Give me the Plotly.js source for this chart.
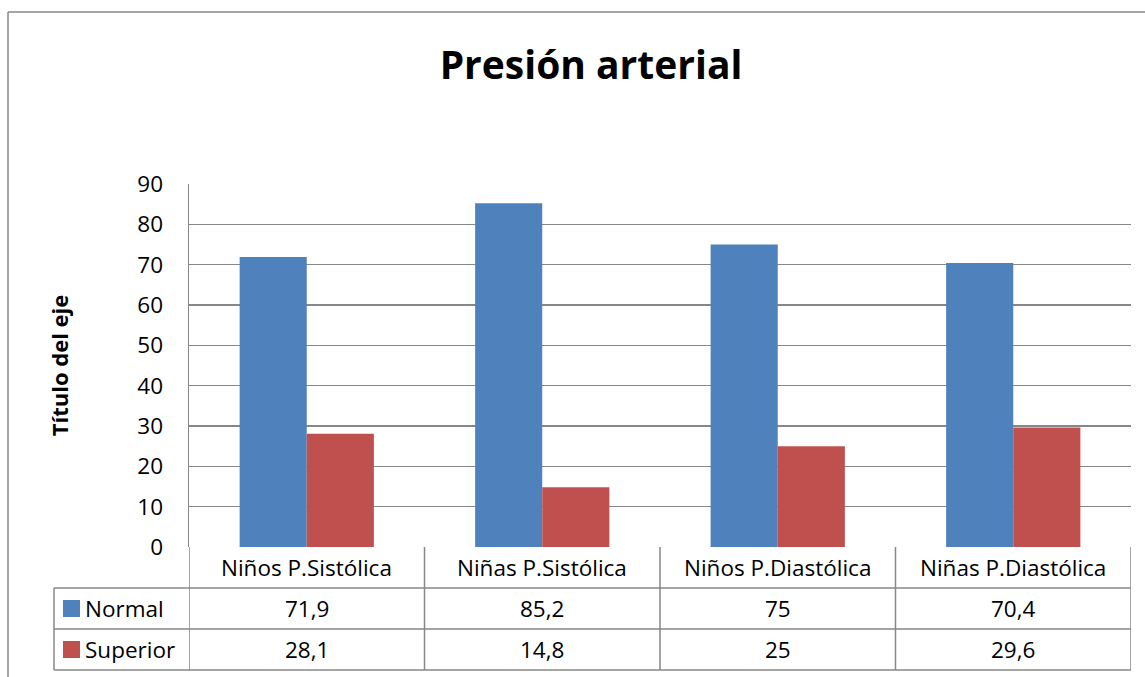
<!DOCTYPE html>
<html>
<head>
<meta charset="utf-8">
<script src="https://cdn.plot.ly/plotly-3.0.1.min.js"></script>
<style>html,body{margin:0;padding:0;background:#fff;}#chart{width:1145px;height:677px;}</style>
</head>
<body>
<div id="chart"></div>
<script>
var categories = ["Niños P.Sistólica", "Niñas P.Sistólica", "Niños P.Diastólica", "Niñas P.Diastólica"];
var seriesNames = ["Normal", "Superior"];
var normalValues = [71.9, 85.2, 75, 70.4];
var superiorValues = [28.1, 14.8, 25, 29.6];
var yTicks = [0, 10, 20, 30, 40, 50, 60, 70, 80, 90];

var FONT = "'Open Sans', Calibri, sans-serif";
var BLUE = "#4F81BD", RED = "#C0504D", LINE = "#878787";
var W = 1145, H = 677, L = 189, R = 14, T = 184, B = 130;
var plotH = H - T - B;
function py(pix) { return (H - B - pix) / plotH; }
function px(pix) { return (pix - L) / (W - L - R); }

var xIdx = categories.map(function (c, i) { return i; });
var fmt = function (v) { return String(v).replace('.', ','); };

var traces = [
  { type: 'bar', name: seriesNames[0], x: xIdx, y: normalValues, marker: { color: BLUE }, hoverinfo: 'y' },
  { type: 'bar', name: seriesNames[1], x: xIdx, y: superiorValues, marker: { color: RED }, hoverinfo: 'y' }
];

var TXT = 22.5;
var rowTop = 547, rowH = 41;
var shapes = [];
var annotations = [];
[1, 2, 3].forEach(function (k) {
  shapes.push({ type: 'line', xref: 'paper', yref: 'paper', x0: px(54), x1: 1, y0: py(rowTop + k * rowH), y1: py(rowTop + k * rowH), line: { color: LINE, width: 1.5 } });
});
for (var b = 0; b <= categories.length; b++) {
  shapes.push({ type: 'line', xref: 'x', yref: 'paper', x0: b - 0.5, x1: b - 0.5, y0: 0, y1: py(rowTop + 3 * rowH), line: { color: LINE, width: 1.5 } });
}
shapes.push({ type: 'line', xref: 'paper', yref: 'paper', x0: px(54), x1: px(54), y0: py(rowTop + rowH), y1: py(rowTop + 3 * rowH), line: { color: LINE, width: 1.5 } });
shapes.push({ type: 'line', xref: 'paper', yref: 'paper', x0: px(8), x1: px(8), y0: py(12), y1: py(700), line: { color: LINE, width: 1.5 } });
shapes.push({ type: 'line', xref: 'paper', yref: 'paper', x0: px(8), x1: px(1160), y0: py(12), y1: py(12), line: { color: LINE, width: 1.5 } });

categories.forEach(function (c, i) {
  annotations.push({ xref: 'x', yref: 'paper', x: i, y: py(rowTop + rowH / 2), text: c, showarrow: false, xanchor: 'center', yanchor: 'middle', font: { family: FONT, size: TXT, color: '#000' } });
});
var rows = [normalValues, superiorValues];
var colors = [BLUE, RED];
rows.forEach(function (vals, r) {
  var yc = py(rowTop + rowH * (r + 1) + rowH / 2);
  vals.forEach(function (v, i) {
    annotations.push({ xref: 'x', yref: 'paper', x: i, y: yc, text: fmt(v), showarrow: false, xanchor: 'center', yanchor: 'middle', font: { family: FONT, size: TXT, color: '#000' } });
  });
  annotations.push({ xref: 'paper', yref: 'paper', x: px(83), y: yc, text: seriesNames[r], showarrow: false, xanchor: 'left', yanchor: 'middle', font: { family: FONT, size: TXT, color: '#000' } });
  var yTopPix = rowTop + rowH * (r + 1) + rowH / 2 - 8.5;
  shapes.push({ type: 'rect', xref: 'paper', yref: 'paper', x0: px(63), x1: px(80), y0: py(yTopPix), y1: py(yTopPix + 17), fillcolor: colors[r], line: { width: 0 } });
});

var layout = {
  width: W, height: H,
  margin: { l: L, r: R, t: T, b: B, pad: 0 },
  paper_bgcolor: '#fff', plot_bgcolor: '#fff',
  font: { family: FONT, color: '#000' },
  title: { text: '<b>Presión arterial</b>', x: 591 / W, xanchor: 'center', y: 1 - 65 / H, yanchor: 'middle', font: { family: FONT, size: 39, color: '#000' } },
  showlegend: false,
  barmode: 'group', bargap: 0.43, bargroupgap: 0,
  xaxis: { range: [-0.5, categories.length - 0.5], showticklabels: false, ticks: '', showgrid: false, zeroline: false, showline: false, fixedrange: true },
  yaxis: {
    range: [0, 90], tickvals: yTicks, ticktext: yTicks.map(String), ticks: '', ticklabelstandoff: 20,
    tickfont: { family: FONT, size: TXT, color: '#000' },
    showgrid: true, gridcolor: LINE, gridwidth: 1.5, zeroline: false,
    showline: true, linecolor: LINE, linewidth: 1.5,
    title: { text: '<b>Título del eje</b>', standoff: 62, font: { family: FONT, size: 22, color: '#000' } },
    fixedrange: true
  },
  shapes: shapes,
  annotations: annotations
};

Plotly.newPlot('chart', traces, layout, { displayModeBar: false, staticPlot: true });
</script>
</body>
</html>
